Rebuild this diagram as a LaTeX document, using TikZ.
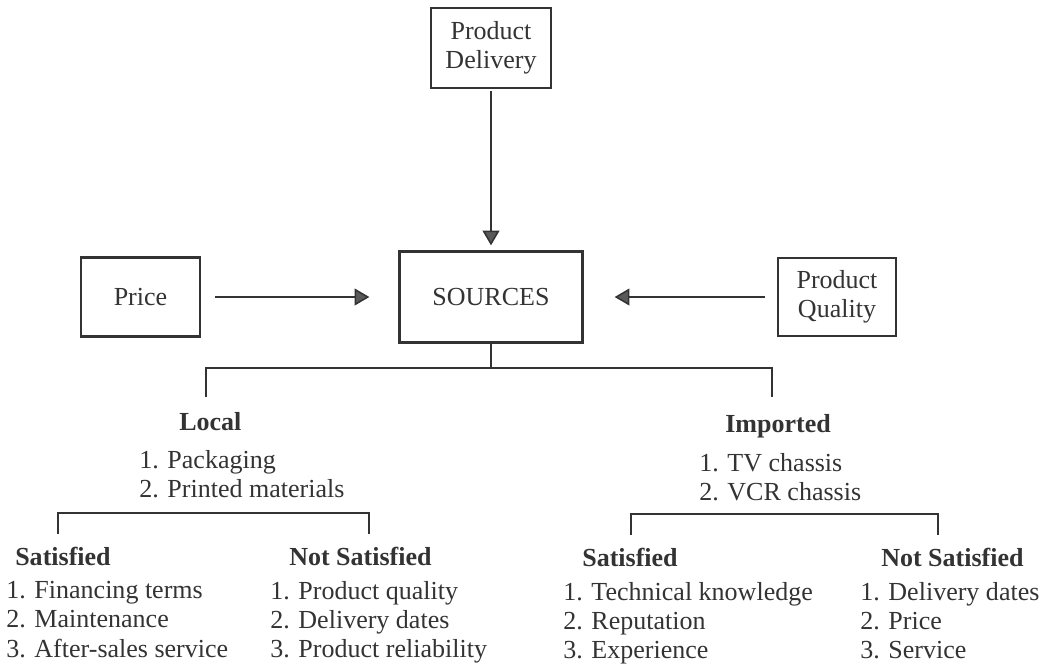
\documentclass[tikz,border=0pt]{standalone}
\usepackage{fontspec}
\setmainfont{Liberation Serif}
\usetikzlibrary{arrows.meta}
\colorlet{ink}{black!80}
\newcommand\diagfont{\fontsize{18.5}{20.8}\selectfont}
\tikzset{
  box/.style={draw=ink, line width=1.6pt, inner sep=0pt, align=center, text=ink},
  arr/.style={draw=ink, line width=1.1pt, -{Triangle[length=10.5pt,width=12pt,fill=black!65]}},
  link/.style={draw=ink, line width=0.9pt},
  head/.style={font=\diagfont\bfseries, anchor=base west, inner sep=0pt, text=ink},
  items/.style={align=left, anchor=north west, inner sep=0pt, text=ink},
}
\begin{document}
\begin{tikzpicture}[x=0.025cm, y=-0.025cm, font=\diagfont]
            \useasboundingbox (0,0) rectangle (1046,664);

            % boxes
            \node[box, minimum width=3cm, minimum height=2cm] (delivery) at (491,48) {Product\\Delivery};
            \node[box, minimum width=4.575cm, minimum height=2.275cm] (sources) at (491,297) {SOURCES};
            \node[box, minimum width=2.975cm, minimum height=1.975cm] (price) at (140.5,297) {Price};
            \node[box, minimum width=2.95cm, minimum height=1.95cm] (quality) at (837,297) {Product\\Quality};

            % arrows into sources
            \draw[arr, shorten <=0.05cm, shorten >=0.125cm] (delivery) -- (sources);
            \draw[arr, shorten <=0.35cm, shorten >=0.725cm] (price) -- (sources);
            \draw[arr, shorten <=0.3cm, shorten >=0.775cm] (quality) -- (sources);

            % first bracket
            \coordinate (fork) at (491,368);
            \coordinate (localfoot) at (206,397);
            \coordinate (importfoot) at (772,397);
            \draw[link] (sources) -- (fork);
            \draw[link] (localfoot) |- (fork) -| (importfoot);

            % local / imported
            \node[head] (local) at (179,430) {Local};
            \node[items] (localitems) at (139,450) {1. Packaging\\2. Printed materials};
            \node[head] (imported) at (725,432) {Imported};
            \node[items] (importitems) at (699,453) {1. TV chassis\\2. VCR chassis};

            % second brackets
            \coordinate (lsat) at (58,534);
            \coordinate (lnot) at (369,534);
            \coordinate (isat) at (631,535);
            \coordinate (inot) at (938,535);
            \draw[link] (lsat) -- ++(0,-21) -| (lnot);
            \draw[link] (isat) -- ++(0,-21) -| (inot);

            % satisfied / not satisfied, local side
            \node[head] (lsathead) at (15,565) {Satisfied};
            \node[items] (lsatitems) at (6,581) {1. Financing terms\\2. Maintenance\\3. After-sales service};
            \node[head] (lnothead) at (289,565) {Not Satisfied};
            \node[items] (lnotitems) at (270,581) {1. Product quality\\2. Delivery dates\\3. Product reliability};

            % satisfied / not satisfied, imported side
            \node[head] (isathead) at (582,566) {Satisfied};
            \node[items] (isatitems) at (563,582) {1. Technical knowledge\\2. Reputation\\3. Experience};
            \node[head] (inothead) at (881,566) {Not Satisfied};
            \node[items] (inotitems) at (860,582) {1. Delivery dates\\2. Price\\3. Service};
\end{tikzpicture}
\end{document}
